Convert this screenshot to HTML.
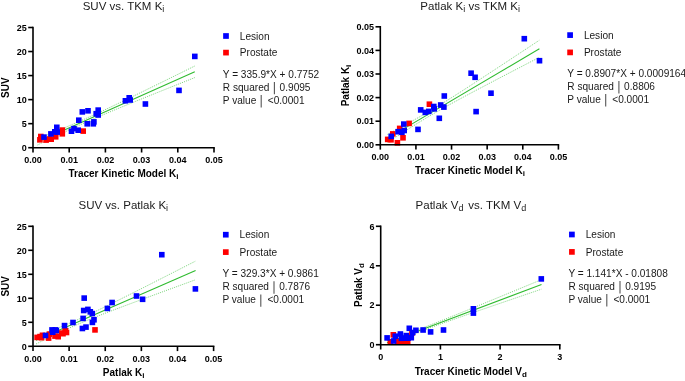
<!DOCTYPE html>
<html><head><meta charset="utf-8"><style>
html,body{margin:0;padding:0;background:#fff;}
svg{display:block;will-change:transform;}
text{font-family:"Liberation Sans", sans-serif;}
.tk{font-size:9px;font-weight:bold;fill:#000;}
.ti{font-size:11.5px;fill:#1a1a1a;}
.ax{font-size:10px;font-weight:bold;fill:#000;}
.lg{font-size:10.1px;fill:#1a1a1a;}
.sb{font-size:9px;}
.sbb{font-size:8px;}
</style></head><body>
<svg width="685" height="381" viewBox="0 0 685 381">
<rect width="685" height="381" fill="#fff"/>
<polyline points="37.50,138.94 41.43,137.34 45.37,135.73 49.30,134.12 53.23,132.49 57.16,130.86 61.09,129.22 65.03,127.56 68.96,125.89 72.89,124.21 76.83,122.51 80.76,120.78 84.69,119.04 88.62,117.28 92.56,115.49 96.49,113.69 100.42,111.87 104.35,110.03 108.28,108.18 112.22,106.32 116.15,104.44 120.08,102.56 124.02,100.67 127.95,98.77 131.88,96.86 135.81,94.95 139.75,93.03 143.68,91.12 147.61,89.19 151.54,87.27 155.47,85.34 159.41,83.41 163.34,81.48 167.27,79.55 171.21,77.62 175.14,75.68 179.07,73.74 183.00,71.81 186.94,69.87 190.87,67.93 194.80,65.99" fill="none" stroke="#2fbb2f" stroke-width="0.9" stroke-dasharray="1 1.1" opacity="0.7"/>
<polyline points="37.50,144.99 41.43,143.08 45.37,141.18 49.30,139.29 53.23,137.40 57.16,135.52 61.09,133.66 65.03,131.80 68.96,129.97 72.89,128.14 76.83,126.34 80.76,124.55 84.69,122.78 88.62,121.04 92.56,119.31 96.49,117.61 100.42,115.92 104.35,114.25 108.28,112.59 112.22,110.94 116.15,109.31 120.08,107.69 124.02,106.07 127.95,104.46 131.88,102.86 135.81,101.26 139.75,99.67 143.68,98.08 147.61,96.49 151.54,94.90 155.47,93.32 159.41,91.74 163.34,90.16 167.27,88.59 171.21,87.01 175.14,85.44 179.07,83.87 183.00,82.30 186.94,80.73 190.87,79.16 194.80,77.59" fill="none" stroke="#2fbb2f" stroke-width="0.9" stroke-dasharray="1 1.1" opacity="0.7"/>
<line x1="37.50" y1="141.97" x2="194.80" y2="71.79" stroke="#2fbb2f" stroke-width="1.1"/>
<rect x="37.10" y="137.00" width="5.60" height="5.60" fill="#ff0000"/>
<rect x="38.00" y="133.70" width="5.60" height="5.60" fill="#ff0000"/>
<rect x="43.30" y="137.30" width="5.60" height="5.60" fill="#ff0000"/>
<rect x="46.70" y="136.20" width="5.60" height="5.60" fill="#ff0000"/>
<rect x="48.40" y="136.40" width="5.60" height="5.60" fill="#ff0000"/>
<rect x="52.90" y="134.00" width="5.60" height="5.60" fill="#ff0000"/>
<rect x="59.50" y="127.30" width="5.60" height="5.60" fill="#ff0000"/>
<rect x="59.50" y="131.00" width="5.60" height="5.60" fill="#ff0000"/>
<rect x="80.40" y="128.30" width="5.60" height="5.60" fill="#ff0000"/>
<rect x="41.20" y="134.30" width="5.60" height="5.60" fill="#0000ff"/>
<rect x="48.10" y="131.10" width="5.60" height="5.60" fill="#0000ff"/>
<rect x="52.00" y="129.00" width="5.60" height="5.60" fill="#0000ff"/>
<rect x="54.00" y="124.50" width="5.60" height="5.60" fill="#0000ff"/>
<rect x="54.40" y="129.30" width="5.60" height="5.60" fill="#0000ff"/>
<rect x="68.70" y="128.40" width="5.60" height="5.60" fill="#0000ff"/>
<rect x="71.20" y="125.80" width="5.60" height="5.60" fill="#0000ff"/>
<rect x="75.40" y="127.40" width="5.60" height="5.60" fill="#0000ff"/>
<rect x="76.00" y="117.40" width="5.60" height="5.60" fill="#0000ff"/>
<rect x="79.50" y="109.10" width="5.60" height="5.60" fill="#0000ff"/>
<rect x="85.20" y="108.00" width="5.60" height="5.60" fill="#0000ff"/>
<rect x="84.40" y="121.00" width="5.60" height="5.60" fill="#0000ff"/>
<rect x="91.10" y="119.10" width="5.60" height="5.60" fill="#0000ff"/>
<rect x="90.50" y="121.00" width="5.60" height="5.60" fill="#0000ff"/>
<rect x="93.40" y="110.90" width="5.60" height="5.60" fill="#0000ff"/>
<rect x="95.40" y="107.30" width="5.60" height="5.60" fill="#0000ff"/>
<rect x="95.40" y="112.20" width="5.60" height="5.60" fill="#0000ff"/>
<rect x="122.60" y="98.00" width="5.60" height="5.60" fill="#0000ff"/>
<rect x="126.40" y="95.00" width="5.60" height="5.60" fill="#0000ff"/>
<rect x="127.40" y="97.20" width="5.60" height="5.60" fill="#0000ff"/>
<rect x="142.60" y="101.20" width="5.60" height="5.60" fill="#0000ff"/>
<rect x="176.20" y="87.60" width="5.60" height="5.60" fill="#0000ff"/>
<rect x="192.00" y="53.60" width="5.60" height="5.60" fill="#0000ff"/>
<path d="M33.00 27.50 V147.70 H214.00" fill="none" stroke="#000" stroke-width="1.6" stroke-linecap="square"/>
<line x1="28.20" y1="147.70" x2="33.00" y2="147.70" stroke="#000" stroke-width="1.6"/>
<text x="26.80" y="150.90" text-anchor="end" class="tk">0</text>
<line x1="28.20" y1="123.66" x2="33.00" y2="123.66" stroke="#000" stroke-width="1.6"/>
<text x="26.80" y="126.86" text-anchor="end" class="tk">5</text>
<line x1="28.20" y1="99.62" x2="33.00" y2="99.62" stroke="#000" stroke-width="1.6"/>
<text x="26.80" y="102.82" text-anchor="end" class="tk">10</text>
<line x1="28.20" y1="75.58" x2="33.00" y2="75.58" stroke="#000" stroke-width="1.6"/>
<text x="26.80" y="78.78" text-anchor="end" class="tk">15</text>
<line x1="28.20" y1="51.54" x2="33.00" y2="51.54" stroke="#000" stroke-width="1.6"/>
<text x="26.80" y="54.74" text-anchor="end" class="tk">20</text>
<line x1="28.20" y1="27.50" x2="33.00" y2="27.50" stroke="#000" stroke-width="1.6"/>
<text x="26.80" y="30.70" text-anchor="end" class="tk">25</text>
<line x1="33.00" y1="147.70" x2="33.00" y2="152.50" stroke="#000" stroke-width="1.6"/>
<text x="33.00" y="162.90" text-anchor="middle" class="tk">0.00</text>
<line x1="69.20" y1="147.70" x2="69.20" y2="152.50" stroke="#000" stroke-width="1.6"/>
<text x="69.20" y="162.90" text-anchor="middle" class="tk">0.01</text>
<line x1="105.40" y1="147.70" x2="105.40" y2="152.50" stroke="#000" stroke-width="1.6"/>
<text x="105.40" y="162.90" text-anchor="middle" class="tk">0.02</text>
<line x1="141.60" y1="147.70" x2="141.60" y2="152.50" stroke="#000" stroke-width="1.6"/>
<text x="141.60" y="162.90" text-anchor="middle" class="tk">0.03</text>
<line x1="177.80" y1="147.70" x2="177.80" y2="152.50" stroke="#000" stroke-width="1.6"/>
<text x="177.80" y="162.90" text-anchor="middle" class="tk">0.04</text>
<line x1="214.00" y1="147.70" x2="214.00" y2="152.50" stroke="#000" stroke-width="1.6"/>
<text x="214.00" y="162.90" text-anchor="middle" class="tk">0.05</text>
<text x="123.50" y="10.10" text-anchor="middle" class="ti">SUV vs. TKM K<tspan class="sb" dy="2.2">i</tspan></text>
<text x="123.50" y="177.30" text-anchor="middle" class="ax">Tracer Kinetic Model K<tspan class="sbb" dy="2.0">i</tspan></text>
<text transform="translate(8.70 87.60) rotate(-90)" text-anchor="middle" class="ax">SUV</text>
<rect x="223.15" y="33.15" width="5.7" height="5.7" fill="#0000ff"/>
<rect x="223.15" y="49.75" width="5.7" height="5.7" fill="#ff0000"/>
<text x="239.80" y="39.70" class="lg">Lesion</text>
<text x="239.80" y="56.30" class="lg">Prostate</text>
<text x="222.80" y="77.80" class="lg">Y = 335.9*X + 0.7752</text>
<text x="222.80" y="90.90" class="lg">R squared</text>
<line x1="274.40" y1="81.90" x2="274.40" y2="94.30" stroke="#555" stroke-width="1.1"/>
<text x="279.60" y="90.90" class="lg">0.9095</text>
<text x="222.80" y="104.00" class="lg">P value</text>
<line x1="261.20" y1="95.00" x2="261.20" y2="107.40" stroke="#555" stroke-width="1.1"/>
<text x="267.80" y="104.00" class="lg">&lt;0.0001</text>
<polyline points="387.50,134.37 391.30,132.35 395.10,130.33 398.89,128.29 402.69,126.23 406.49,124.17 410.28,122.08 414.08,119.98 417.88,117.85 421.68,115.69 425.48,113.51 429.27,111.29 433.07,109.04 436.87,106.75 440.66,104.44 444.46,102.09 448.26,99.73 452.06,97.34 455.86,94.93 459.65,92.50 463.45,90.07 467.25,87.62 471.04,85.16 474.84,82.69 478.64,80.22 482.44,77.74 486.24,75.25 490.03,72.76 493.83,70.27 497.63,67.78 501.42,65.28 505.22,62.78 509.02,60.27 512.82,57.77 516.62,55.26 520.41,52.76 524.21,50.25 528.01,47.74 531.80,45.23 535.60,42.71 539.40,40.20" fill="none" stroke="#2fbb2f" stroke-width="0.9" stroke-dasharray="1 1.1" opacity="0.7"/>
<polyline points="387.50,142.40 391.30,139.94 395.10,137.49 398.89,135.04 402.69,132.61 406.49,130.20 410.28,127.80 414.08,125.42 417.88,123.07 421.68,120.75 425.48,118.45 429.27,116.19 433.07,113.96 436.87,111.76 440.66,109.59 444.46,107.45 448.26,105.34 452.06,103.24 455.86,101.17 459.65,99.11 463.45,97.07 467.25,95.04 471.04,93.01 474.84,91.00 478.64,88.99 482.44,86.99 486.24,84.99 490.03,83.00 493.83,81.01 497.63,79.02 501.42,77.04 505.22,75.06 509.02,73.08 512.82,71.10 516.62,69.12 520.41,67.15 524.21,65.17 528.01,63.20 531.80,61.23 535.60,59.26 539.40,57.29" fill="none" stroke="#2fbb2f" stroke-width="0.9" stroke-dasharray="1 1.1" opacity="0.7"/>
<line x1="387.50" y1="138.39" x2="539.40" y2="48.75" stroke="#2fbb2f" stroke-width="1.1"/>
<rect x="384.90" y="136.60" width="5.60" height="5.60" fill="#ff0000"/>
<rect x="388.20" y="137.00" width="5.60" height="5.60" fill="#ff0000"/>
<rect x="390.00" y="131.10" width="5.60" height="5.60" fill="#ff0000"/>
<rect x="394.60" y="140.00" width="5.60" height="5.60" fill="#ff0000"/>
<rect x="400.20" y="135.00" width="5.60" height="5.60" fill="#ff0000"/>
<rect x="396.90" y="125.60" width="5.60" height="5.60" fill="#ff0000"/>
<rect x="406.30" y="120.60" width="5.60" height="5.60" fill="#ff0000"/>
<rect x="388.40" y="133.60" width="5.60" height="5.60" fill="#0000ff"/>
<rect x="395.30" y="128.90" width="5.60" height="5.60" fill="#0000ff"/>
<rect x="399.10" y="129.50" width="5.60" height="5.60" fill="#0000ff"/>
<rect x="401.40" y="127.70" width="5.60" height="5.60" fill="#0000ff"/>
<rect x="401.00" y="121.30" width="5.60" height="5.60" fill="#0000ff"/>
<rect x="415.20" y="126.60" width="5.60" height="5.60" fill="#0000ff"/>
<rect x="417.90" y="107.10" width="5.60" height="5.60" fill="#0000ff"/>
<rect x="422.50" y="109.60" width="5.60" height="5.60" fill="#0000ff"/>
<rect x="426.00" y="108.60" width="5.60" height="5.60" fill="#0000ff"/>
<rect x="426.60" y="101.40" width="5.60" height="5.60" fill="#ff0000"/>
<rect x="431.00" y="103.70" width="5.60" height="5.60" fill="#0000ff"/>
<rect x="431.40" y="106.10" width="5.60" height="5.60" fill="#0000ff"/>
<rect x="437.90" y="102.20" width="5.60" height="5.60" fill="#0000ff"/>
<rect x="441.10" y="104.30" width="5.60" height="5.60" fill="#0000ff"/>
<rect x="441.50" y="93.20" width="5.60" height="5.60" fill="#0000ff"/>
<rect x="436.50" y="115.50" width="5.60" height="5.60" fill="#0000ff"/>
<rect x="468.30" y="70.40" width="5.60" height="5.60" fill="#0000ff"/>
<rect x="472.30" y="74.50" width="5.60" height="5.60" fill="#0000ff"/>
<rect x="488.20" y="90.40" width="5.60" height="5.60" fill="#0000ff"/>
<rect x="473.30" y="108.80" width="5.60" height="5.60" fill="#0000ff"/>
<rect x="521.50" y="35.90" width="5.60" height="5.60" fill="#0000ff"/>
<rect x="536.70" y="57.90" width="5.60" height="5.60" fill="#0000ff"/>
<path d="M380.30 26.80 V144.80 H558.40" fill="none" stroke="#000" stroke-width="1.6" stroke-linecap="square"/>
<line x1="375.50" y1="144.80" x2="380.30" y2="144.80" stroke="#000" stroke-width="1.6"/>
<text x="374.10" y="148.00" text-anchor="end" class="tk">0.00</text>
<line x1="375.50" y1="121.20" x2="380.30" y2="121.20" stroke="#000" stroke-width="1.6"/>
<text x="374.10" y="124.40" text-anchor="end" class="tk">0.01</text>
<line x1="375.50" y1="97.60" x2="380.30" y2="97.60" stroke="#000" stroke-width="1.6"/>
<text x="374.10" y="100.80" text-anchor="end" class="tk">0.02</text>
<line x1="375.50" y1="74.00" x2="380.30" y2="74.00" stroke="#000" stroke-width="1.6"/>
<text x="374.10" y="77.20" text-anchor="end" class="tk">0.03</text>
<line x1="375.50" y1="50.40" x2="380.30" y2="50.40" stroke="#000" stroke-width="1.6"/>
<text x="374.10" y="53.60" text-anchor="end" class="tk">0.04</text>
<line x1="375.50" y1="26.80" x2="380.30" y2="26.80" stroke="#000" stroke-width="1.6"/>
<text x="374.10" y="30.00" text-anchor="end" class="tk">0.05</text>
<line x1="380.30" y1="144.80" x2="380.30" y2="149.60" stroke="#000" stroke-width="1.6"/>
<text x="380.30" y="159.60" text-anchor="middle" class="tk">0.00</text>
<line x1="415.92" y1="144.80" x2="415.92" y2="149.60" stroke="#000" stroke-width="1.6"/>
<text x="415.92" y="159.60" text-anchor="middle" class="tk">0.01</text>
<line x1="451.54" y1="144.80" x2="451.54" y2="149.60" stroke="#000" stroke-width="1.6"/>
<text x="451.54" y="159.60" text-anchor="middle" class="tk">0.02</text>
<line x1="487.16" y1="144.80" x2="487.16" y2="149.60" stroke="#000" stroke-width="1.6"/>
<text x="487.16" y="159.60" text-anchor="middle" class="tk">0.03</text>
<line x1="522.78" y1="144.80" x2="522.78" y2="149.60" stroke="#000" stroke-width="1.6"/>
<text x="522.78" y="159.60" text-anchor="middle" class="tk">0.04</text>
<line x1="558.40" y1="144.80" x2="558.40" y2="149.60" stroke="#000" stroke-width="1.6"/>
<text x="558.40" y="159.60" text-anchor="middle" class="tk">0.05</text>
<text x="470.20" y="9.90" text-anchor="middle" class="ti">Patlak K<tspan class="sb" dy="2.2">i</tspan><tspan dy="-2.2"> vs TKM </tspan>K<tspan class="sb" dy="2.2">i</tspan></text>
<text x="470.00" y="174.30" text-anchor="middle" class="ax">Tracer Kinetic Model K<tspan class="sbb" dy="2.0">i</tspan></text>
<text transform="translate(348.80 85.50) rotate(-90)" text-anchor="middle" class="ax">Patlak K<tspan class="sbb" dy="2.0">i</tspan></text>
<rect x="567.25" y="32.25" width="5.7" height="5.7" fill="#0000ff"/>
<rect x="567.25" y="49.55" width="5.7" height="5.7" fill="#ff0000"/>
<text x="583.90" y="38.80" class="lg">Lesion</text>
<text x="583.90" y="56.10" class="lg">Prostate</text>
<text x="567.30" y="76.90" class="lg">Y = 0.8907*X + 0.0009164</text>
<text x="567.30" y="90.00" class="lg">R squared</text>
<line x1="618.90" y1="81.00" x2="618.90" y2="93.40" stroke="#555" stroke-width="1.1"/>
<text x="624.10" y="90.00" class="lg">0.8806</text>
<text x="567.30" y="103.10" class="lg">P value</text>
<line x1="605.70" y1="94.10" x2="605.70" y2="106.50" stroke="#555" stroke-width="1.1"/>
<text x="612.30" y="103.10" class="lg">&lt;0.0001</text>
<polyline points="36.00,336.51 39.99,334.99 43.98,333.46 47.97,331.92 51.96,330.36 55.95,328.78 59.94,327.18 63.93,325.54 67.92,323.88 71.91,322.18 75.90,320.45 79.89,318.67 83.88,316.86 87.87,315.02 91.86,313.15 95.85,311.25 99.84,309.32 103.83,307.38 107.82,305.43 111.81,303.46 115.80,301.48 119.79,299.50 123.78,297.50 127.77,295.50 131.76,293.50 135.75,291.49 139.74,289.47 143.73,287.46 147.72,285.44 151.71,283.42 155.70,281.39 159.69,279.37 163.68,277.34 167.67,275.31 171.66,273.28 175.65,271.25 179.64,269.22 183.63,267.19 187.62,265.16 191.61,263.12 195.60,261.09" fill="none" stroke="#2fbb2f" stroke-width="0.9" stroke-dasharray="1 1.1" opacity="0.7"/>
<polyline points="36.00,344.00 39.99,342.02 43.98,340.06 47.97,338.11 51.96,336.18 55.95,334.27 59.94,332.38 63.93,330.52 67.92,328.69 71.91,326.90 75.90,325.14 79.89,323.42 83.88,321.74 87.87,320.09 91.86,318.47 95.85,316.88 99.84,315.31 103.83,313.76 107.82,312.22 111.81,310.70 115.80,309.18 119.79,307.68 123.78,306.18 127.77,304.69 131.76,303.20 135.75,301.72 139.74,300.24 143.73,298.76 147.72,297.29 151.71,295.82 155.70,294.35 159.69,292.88 163.68,291.42 167.67,289.95 171.66,288.49 175.65,287.03 179.64,285.57 183.63,284.11 187.62,282.65 191.61,281.19 195.60,279.74" fill="none" stroke="#2fbb2f" stroke-width="0.9" stroke-dasharray="1 1.1" opacity="0.7"/>
<line x1="36.00" y1="340.25" x2="195.60" y2="270.41" stroke="#2fbb2f" stroke-width="1.1"/>
<rect x="34.30" y="334.60" width="5.60" height="5.60" fill="#ff0000"/>
<rect x="37.20" y="333.80" width="5.60" height="5.60" fill="#ff0000"/>
<rect x="39.70" y="332.50" width="5.60" height="5.60" fill="#ff0000"/>
<rect x="38.70" y="334.90" width="5.60" height="5.60" fill="#ff0000"/>
<rect x="45.80" y="335.30" width="5.60" height="5.60" fill="#ff0000"/>
<rect x="46.60" y="331.30" width="5.60" height="5.60" fill="#ff0000"/>
<rect x="52.20" y="333.30" width="5.60" height="5.60" fill="#ff0000"/>
<rect x="55.40" y="333.90" width="5.60" height="5.60" fill="#ff0000"/>
<rect x="58.50" y="330.30" width="5.60" height="5.60" fill="#ff0000"/>
<rect x="60.20" y="330.90" width="5.60" height="5.60" fill="#ff0000"/>
<rect x="62.50" y="329.00" width="5.60" height="5.60" fill="#ff0000"/>
<rect x="62.60" y="327.90" width="5.60" height="5.60" fill="#ff0000"/>
<rect x="63.70" y="329.70" width="5.60" height="5.60" fill="#ff0000"/>
<rect x="92.20" y="327.10" width="5.60" height="5.60" fill="#ff0000"/>
<rect x="42.70" y="332.70" width="5.60" height="5.60" fill="#0000ff"/>
<rect x="49.20" y="327.10" width="5.60" height="5.60" fill="#0000ff"/>
<rect x="52.50" y="327.10" width="5.60" height="5.60" fill="#0000ff"/>
<rect x="49.90" y="329.40" width="5.60" height="5.60" fill="#0000ff"/>
<rect x="61.70" y="322.80" width="5.60" height="5.60" fill="#0000ff"/>
<rect x="70.20" y="319.70" width="5.60" height="5.60" fill="#0000ff"/>
<rect x="79.60" y="325.70" width="5.60" height="5.60" fill="#0000ff"/>
<rect x="83.20" y="324.30" width="5.60" height="5.60" fill="#0000ff"/>
<rect x="80.30" y="315.60" width="5.60" height="5.60" fill="#0000ff"/>
<rect x="91.20" y="317.00" width="5.60" height="5.60" fill="#0000ff"/>
<rect x="89.60" y="319.60" width="5.60" height="5.60" fill="#0000ff"/>
<rect x="53.50" y="327.70" width="5.60" height="5.60" fill="#0000ff"/>
<rect x="81.40" y="295.30" width="5.60" height="5.60" fill="#0000ff"/>
<rect x="80.90" y="307.70" width="5.60" height="5.60" fill="#0000ff"/>
<rect x="85.10" y="306.60" width="5.60" height="5.60" fill="#0000ff"/>
<rect x="87.50" y="309.00" width="5.60" height="5.60" fill="#0000ff"/>
<rect x="89.50" y="310.80" width="5.60" height="5.60" fill="#0000ff"/>
<rect x="104.60" y="305.60" width="5.60" height="5.60" fill="#0000ff"/>
<rect x="109.30" y="299.70" width="5.60" height="5.60" fill="#0000ff"/>
<rect x="133.70" y="293.20" width="5.60" height="5.60" fill="#0000ff"/>
<rect x="139.80" y="296.50" width="5.60" height="5.60" fill="#0000ff"/>
<rect x="159.00" y="251.90" width="5.60" height="5.60" fill="#0000ff"/>
<rect x="192.60" y="286.10" width="5.60" height="5.60" fill="#0000ff"/>
<path d="M33.00 226.30 V346.30 H213.60" fill="none" stroke="#000" stroke-width="1.6" stroke-linecap="square"/>
<line x1="28.20" y1="346.30" x2="33.00" y2="346.30" stroke="#000" stroke-width="1.6"/>
<text x="26.80" y="349.50" text-anchor="end" class="tk">0</text>
<line x1="28.20" y1="322.30" x2="33.00" y2="322.30" stroke="#000" stroke-width="1.6"/>
<text x="26.80" y="325.50" text-anchor="end" class="tk">5</text>
<line x1="28.20" y1="298.30" x2="33.00" y2="298.30" stroke="#000" stroke-width="1.6"/>
<text x="26.80" y="301.50" text-anchor="end" class="tk">10</text>
<line x1="28.20" y1="274.30" x2="33.00" y2="274.30" stroke="#000" stroke-width="1.6"/>
<text x="26.80" y="277.50" text-anchor="end" class="tk">15</text>
<line x1="28.20" y1="250.30" x2="33.00" y2="250.30" stroke="#000" stroke-width="1.6"/>
<text x="26.80" y="253.50" text-anchor="end" class="tk">20</text>
<line x1="28.20" y1="226.30" x2="33.00" y2="226.30" stroke="#000" stroke-width="1.6"/>
<text x="26.80" y="229.50" text-anchor="end" class="tk">25</text>
<line x1="33.00" y1="346.30" x2="33.00" y2="351.10" stroke="#000" stroke-width="1.6"/>
<text x="33.00" y="361.50" text-anchor="middle" class="tk">0.00</text>
<line x1="69.12" y1="346.30" x2="69.12" y2="351.10" stroke="#000" stroke-width="1.6"/>
<text x="69.12" y="361.50" text-anchor="middle" class="tk">0.01</text>
<line x1="105.24" y1="346.30" x2="105.24" y2="351.10" stroke="#000" stroke-width="1.6"/>
<text x="105.24" y="361.50" text-anchor="middle" class="tk">0.02</text>
<line x1="141.36" y1="346.30" x2="141.36" y2="351.10" stroke="#000" stroke-width="1.6"/>
<text x="141.36" y="361.50" text-anchor="middle" class="tk">0.03</text>
<line x1="177.48" y1="346.30" x2="177.48" y2="351.10" stroke="#000" stroke-width="1.6"/>
<text x="177.48" y="361.50" text-anchor="middle" class="tk">0.04</text>
<line x1="213.60" y1="346.30" x2="213.60" y2="351.10" stroke="#000" stroke-width="1.6"/>
<text x="213.60" y="361.50" text-anchor="middle" class="tk">0.05</text>
<text x="123.30" y="209.20" text-anchor="middle" class="ti">SUV vs. Patlak K<tspan class="sb" dy="2.2">i</tspan></text>
<text x="123.70" y="376.30" text-anchor="middle" class="ax">Patlak K<tspan class="sbb" dy="2.0">i</tspan></text>
<text transform="translate(8.70 286.30) rotate(-90)" text-anchor="middle" class="ax">SUV</text>
<rect x="222.95" y="231.85" width="5.7" height="5.7" fill="#0000ff"/>
<rect x="222.95" y="249.25" width="5.7" height="5.7" fill="#ff0000"/>
<text x="239.60" y="238.40" class="lg">Lesion</text>
<text x="239.60" y="255.80" class="lg">Prostate</text>
<text x="222.40" y="277.20" class="lg">Y = 329.3*X + 0.9861</text>
<text x="222.40" y="290.30" class="lg">R squared</text>
<line x1="274.00" y1="281.30" x2="274.00" y2="293.70" stroke="#555" stroke-width="1.1"/>
<text x="279.20" y="290.30" class="lg">0.7876</text>
<text x="222.40" y="303.40" class="lg">P value</text>
<line x1="260.80" y1="294.40" x2="260.80" y2="306.80" stroke="#555" stroke-width="1.1"/>
<text x="267.40" y="303.40" class="lg">&lt;0.0001</text>
<polyline points="387.00,340.88 390.86,339.52 394.73,338.15 398.59,336.78 402.45,335.39 406.31,333.99 410.18,332.58 414.04,331.16 417.90,329.72 421.76,328.26 425.62,326.79 429.49,325.30 433.35,323.80 437.21,322.29 441.07,320.76 444.94,319.22 448.80,317.68 452.66,316.12 456.52,314.56 460.39,313.00 464.25,311.43 468.11,309.86 471.98,308.28 475.84,306.70 479.70,305.12 483.56,303.54 487.43,301.95 491.29,300.36 495.15,298.77 499.01,297.19 502.88,295.59 506.74,294.00 510.60,292.41 514.46,290.82 518.33,289.22 522.19,287.63 526.05,286.03 529.91,284.44 533.77,282.84 537.64,281.25 541.50,279.65" fill="none" stroke="#2fbb2f" stroke-width="0.9" stroke-dasharray="1 1.1" opacity="0.7"/>
<polyline points="387.00,344.48 390.86,342.93 394.73,341.38 398.59,339.84 402.45,338.32 406.31,336.80 410.18,335.30 414.04,333.81 417.90,332.33 421.76,330.88 425.62,329.43 429.49,328.01 433.35,326.60 437.21,325.20 441.07,323.81 444.94,322.44 448.80,321.07 452.66,319.71 456.52,318.36 460.39,317.01 464.25,315.66 468.11,314.32 471.98,312.99 475.84,311.65 479.70,310.32 483.56,308.99 487.43,307.66 491.29,306.33 495.15,305.01 499.01,303.69 502.88,302.36 506.74,301.04 510.60,299.72 514.46,298.40 518.33,297.08 522.19,295.76 526.05,294.44 529.91,293.12 533.77,291.81 537.64,290.49 541.50,289.17" fill="none" stroke="#2fbb2f" stroke-width="0.9" stroke-dasharray="1 1.1" opacity="0.7"/>
<line x1="387.00" y1="342.68" x2="541.50" y2="284.41" stroke="#2fbb2f" stroke-width="1.1"/>
<rect x="387.60" y="339.00" width="5.60" height="5.60" fill="#ff0000"/>
<rect x="390.50" y="332.00" width="5.60" height="5.60" fill="#ff0000"/>
<rect x="394.80" y="338.40" width="5.60" height="5.60" fill="#ff0000"/>
<rect x="399.50" y="339.00" width="5.60" height="5.60" fill="#ff0000"/>
<rect x="404.90" y="338.50" width="5.60" height="5.60" fill="#ff0000"/>
<rect x="409.10" y="330.30" width="5.60" height="5.60" fill="#ff0000"/>
<rect x="384.30" y="335.10" width="5.60" height="5.60" fill="#0000ff"/>
<rect x="390.80" y="338.20" width="5.60" height="5.60" fill="#0000ff"/>
<rect x="392.50" y="333.40" width="5.60" height="5.60" fill="#0000ff"/>
<rect x="397.60" y="331.20" width="5.60" height="5.60" fill="#0000ff"/>
<rect x="398.60" y="335.50" width="5.60" height="5.60" fill="#0000ff"/>
<rect x="402.00" y="335.40" width="5.60" height="5.60" fill="#0000ff"/>
<rect x="405.20" y="335.40" width="5.60" height="5.60" fill="#0000ff"/>
<rect x="403.50" y="332.80" width="5.60" height="5.60" fill="#0000ff"/>
<rect x="406.50" y="325.50" width="5.60" height="5.60" fill="#0000ff"/>
<rect x="408.50" y="334.90" width="5.60" height="5.60" fill="#0000ff"/>
<rect x="410.00" y="329.70" width="5.60" height="5.60" fill="#0000ff"/>
<rect x="413.10" y="327.50" width="5.60" height="5.60" fill="#0000ff"/>
<rect x="420.30" y="327.20" width="5.60" height="5.60" fill="#0000ff"/>
<rect x="427.80" y="329.10" width="5.60" height="5.60" fill="#0000ff"/>
<rect x="440.70" y="327.20" width="5.60" height="5.60" fill="#0000ff"/>
<rect x="470.60" y="306.00" width="5.60" height="5.60" fill="#0000ff"/>
<rect x="470.60" y="310.30" width="5.60" height="5.60" fill="#0000ff"/>
<rect x="538.50" y="276.10" width="5.60" height="5.60" fill="#0000ff"/>
<path d="M380.70 226.30 V344.70 H559.80" fill="none" stroke="#000" stroke-width="1.6" stroke-linecap="square"/>
<line x1="375.90" y1="344.70" x2="380.70" y2="344.70" stroke="#000" stroke-width="1.6"/>
<text x="374.50" y="347.90" text-anchor="end" class="tk">0</text>
<line x1="375.90" y1="305.23" x2="380.70" y2="305.23" stroke="#000" stroke-width="1.6"/>
<text x="374.50" y="308.43" text-anchor="end" class="tk">2</text>
<line x1="375.90" y1="265.77" x2="380.70" y2="265.77" stroke="#000" stroke-width="1.6"/>
<text x="374.50" y="268.97" text-anchor="end" class="tk">4</text>
<line x1="375.90" y1="226.30" x2="380.70" y2="226.30" stroke="#000" stroke-width="1.6"/>
<text x="374.50" y="229.50" text-anchor="end" class="tk">6</text>
<line x1="380.70" y1="344.70" x2="380.70" y2="349.50" stroke="#000" stroke-width="1.6"/>
<text x="380.70" y="359.70" text-anchor="middle" class="tk">0</text>
<line x1="440.40" y1="344.70" x2="440.40" y2="349.50" stroke="#000" stroke-width="1.6"/>
<text x="440.40" y="359.70" text-anchor="middle" class="tk">1</text>
<line x1="500.10" y1="344.70" x2="500.10" y2="349.50" stroke="#000" stroke-width="1.6"/>
<text x="500.10" y="359.70" text-anchor="middle" class="tk">2</text>
<line x1="559.80" y1="344.70" x2="559.80" y2="349.50" stroke="#000" stroke-width="1.6"/>
<text x="559.80" y="359.70" text-anchor="middle" class="tk">3</text>
<text x="470.90" y="209.20" text-anchor="middle" class="ti">Patlak V<tspan class="sb" dy="2.2">d</tspan><tspan dy="-2.2" dx="1.7"> vs. TKM </tspan>V<tspan class="sb" dy="2.2">d</tspan></text>
<text x="470.75" y="374.80" text-anchor="middle" class="ax">Tracer Kinetic Model V<tspan class="sbb" dy="2.0">d</tspan></text>
<text transform="translate(361.70 285.00) rotate(-90)" text-anchor="middle" class="ax">Patlak V<tspan class="sbb" dy="2.0">d</tspan></text>
<rect x="569.05" y="231.65" width="5.7" height="5.7" fill="#0000ff"/>
<rect x="569.05" y="249.05" width="5.7" height="5.7" fill="#ff0000"/>
<text x="585.70" y="238.20" class="lg">Lesion</text>
<text x="585.70" y="255.60" class="lg">Prostate</text>
<text x="568.40" y="276.90" class="lg">Y = 1.141*X - 0.01808</text>
<text x="568.40" y="290.00" class="lg">R squared</text>
<line x1="620.00" y1="281.00" x2="620.00" y2="293.40" stroke="#555" stroke-width="1.1"/>
<text x="625.20" y="290.00" class="lg">0.9195</text>
<text x="568.40" y="303.10" class="lg">P value</text>
<line x1="606.80" y1="294.10" x2="606.80" y2="306.50" stroke="#555" stroke-width="1.1"/>
<text x="613.40" y="303.10" class="lg">&lt;0.0001</text>
</svg></body></html>
